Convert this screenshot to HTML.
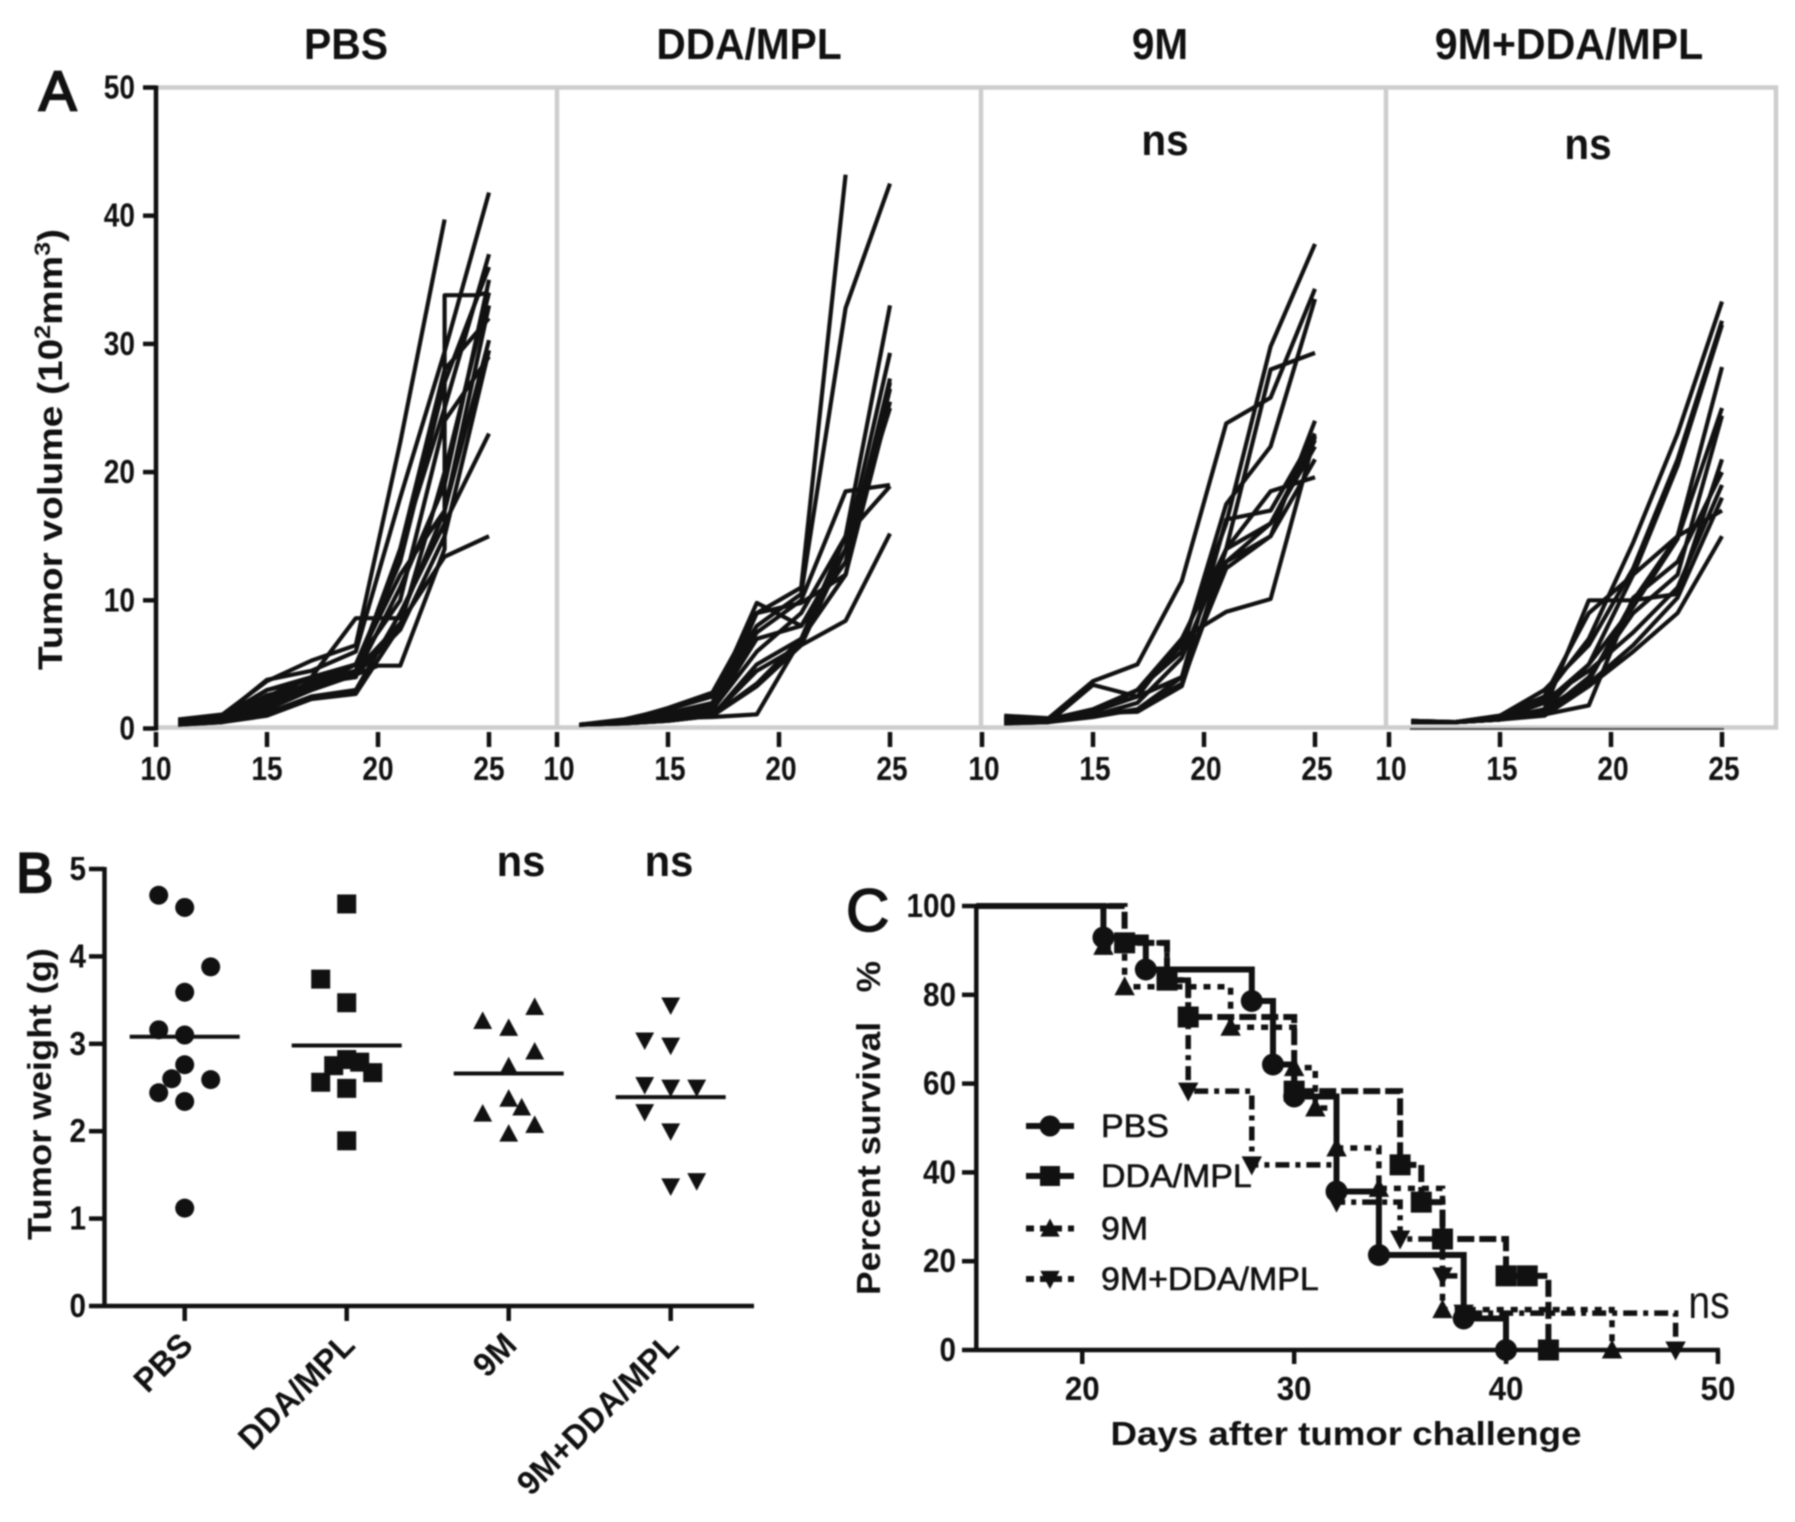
<!DOCTYPE html>
<html lang="en">
<head>
<meta charset="utf-8">
<title>Tumor growth, weight and survival</title>
<style>
html,body{margin:0;padding:0;background:#fff;}
svg{display:block;filter:blur(0.7px);font-family:"Liberation Sans",sans-serif;}
</style>
</head>
<body>
<svg id="figure" xmlns="http://www.w3.org/2000/svg" width="1795" height="1522" viewBox="0 0 1795 1522">
  <rect width="1795" height="1522" fill="#fff"/>
  <g id="panel-a">
    <text x="39" y="110" font-size="56" fill="#111" stroke="#111" stroke-width="2.2">A</text>
    <text transform="translate(346,59) scale(.93,1)" font-size="44" font-weight="bold" text-anchor="middle" fill="#111">PBS</text>
    <text transform="translate(749,59) scale(.925,1)" font-size="44" font-weight="bold" text-anchor="middle" fill="#111">DDA/MPL</text>
    <text transform="translate(1160,59) scale(.92,1)" font-size="44" font-weight="bold" text-anchor="middle" fill="#111">9M</text>
    <text transform="translate(1569,59) scale(.935,1)" font-size="44" font-weight="bold" text-anchor="middle" fill="#111">9M+DDA/MPL</text>
    <text transform="translate(1165,155) scale(.92,1)" font-size="44" font-weight="bold" text-anchor="middle" fill="#111">ns</text>
    <text transform="translate(1588,159) scale(.92,1)" font-size="44" font-weight="bold" text-anchor="middle" fill="#111">ns</text>
    <text transform="translate(62,670) rotate(-90)" font-size="34" font-weight="bold" fill="#111" textLength="441" lengthAdjust="spacingAndGlyphs">Tumor volume (10<tspan font-size="22" dy="-12">2</tspan><tspan dy="12">mm</tspan><tspan font-size="22" dy="-12">3</tspan><tspan dy="12">)</tspan></text>
  </g>
  <g id="panel-b">
    <text x="16" y="892" font-size="56" fill="#111" stroke="#111" stroke-width="2.2">B</text>
    <text transform="translate(51,1240) rotate(-90)" font-size="33" font-weight="bold" fill="#111" textLength="292" lengthAdjust="spacingAndGlyphs">Tumor weight (g)</text>
    <text transform="translate(521,876) scale(.95,1)" font-size="44" font-weight="bold" text-anchor="middle" fill="#111">ns</text>
    <text transform="translate(669,876) scale(.95,1)" font-size="44" font-weight="bold" text-anchor="middle" fill="#111">ns</text>
  </g>
  <g id="panel-c">
    <text x="846" y="931" font-size="60" fill="#111" stroke="#111" stroke-width="1.6">C</text>
    <text transform="translate(880,1295) rotate(-90)" font-size="33" font-weight="bold" fill="#111" textLength="334" lengthAdjust="spacingAndGlyphs" xml:space="preserve">Percent survival   %</text>
    <text x="1346" y="1445" font-size="33" font-weight="bold" text-anchor="middle" fill="#111" textLength="471" lengthAdjust="spacingAndGlyphs">Days after tumor challenge</text>
    <text transform="translate(1709,1318) scale(.85,1)" font-size="46" text-anchor="middle" fill="#111">ns</text>
  </g>
</svg>
<script>
/* ---------- Panel A data: tumor volume (10^2 mm^3) by day ---------- */
const growthDays = [11, 13, 15, 17, 19, 21, 23, 25];
const growthXTicks = [10, 15, 20, 25];
const growthYTicks = [0, 10, 20, 30, 40, 50];
const pbsVolumes = [
  [0.6, 1.0, 3.8, 4.5, 6.0, 18.0, 29.4, 41.8],
  [0.7, 1.1, 3.7, 5.3, 6.5, 22.3, 39.7],
  [0.4, 0.7, 2.0, 3.6, 4.5, 14.0, 25.0, 37.0],
  [0.5, 0.8, 2.5, 4.0, 5.0, 13.0, 27.0, 36.0],
  [0.3, 0.6, 1.5, 3.0, 4.2, 11.0, 19.0, 35.0],
  [0.3, 0.5, 1.0, 2.3, 2.7, 8.0, 20.0, 34.0],
  [0.5, 0.9, 3.0, 4.0, 8.6, 8.6, 17.0, 33.0],
  [0.4, 0.7, 2.2, 3.5, 4.0, 14.0, 28.0, 32.0],
  [0.6, 1.0, 3.0, 3.8, 5.0, 12.0, 17.0, 30.3],
  [0.4, 0.6, 1.8, 3.2, 5.0, 10.0, 24.0, 29.0],
  [0.3, 0.5, 1.2, 2.5, 3.0, 9.0, 16.0, 23.0],
  [0.5, 0.8, 2.5, 3.5, 4.5, 8.2, 13.4, 15.0],
  [0.4, 0.7, 2.6, 3.4, 4.2, 7.7, 15.0, 29.5]
];
const pbsPlateauDays = [11, 13, 15, 17, 19, 20, 21, 23, 23, 24.4, 25];
const pbsPlateauVolumes = [0.4, 0.6, 1.6, 3.0, 4.2, 4.9, 4.9, 14.0, 33.8, 33.8, 34.0];
const ddaVolumes = [
  [0.3, 0.6, 1.6, 2.8, 9.0, 11.0, 43.2],
  [0.3, 0.7, 1.5, 2.5, 8.0, 10.5, 32.8, 42.5],
  [0.3, 0.6, 1.0, 1.5, 6.0, 9.0, 15.0, 33.0],
  [0.3, 0.5, 0.8, 1.5, 7.0, 8.0, 14.0, 29.3],
  [0.3, 0.5, 1.2, 2.0, 9.8, 8.0, 13.0, 27.3],
  [0.3, 0.5, 0.8, 1.2, 9.0, 9.8, 12.0, 26.5],
  [0.3, 0.5, 0.8, 1.0, 5.0, 7.0, 12.0, 25.5],
  [0.3, 0.4, 0.6, 1.0, 4.5, 6.5, 14.0, 25.0],
  [0.3, 0.5, 1.0, 1.8, 7.5, 10.0, 18.5, 19.0],
  [0.3, 0.4, 0.6, 1.0, 3.5, 7.0, 15.0, 18.9],
  [0.3, 0.4, 0.6, 1.0, 3.3, 6.5, 8.4, 15.2],
  [0.3, 0.5, 0.8, 0.9, 1.1, 7.0, 12.0, 27.0]
];
const nineMVolumes = [
  [1.0, 0.8, 3.7, 5.0, 11.5, 23.8, 25.8, 34.3],
  [0.8, 0.7, 1.5, 3.0, 6.5, 16.0, 29.8, 37.8],
  [0.5, 0.5, 1.0, 2.0, 5.5, 14.0, 28.0, 29.3],
  [0.9, 0.7, 1.5, 3.0, 6.0, 17.5, 22.0, 33.5],
  [0.6, 0.6, 1.0, 1.5, 3.5, 13.0, 15.0, 24.0],
  [0.4, 0.5, 0.9, 1.5, 4.0, 16.3, 17.0, 23.0],
  [0.5, 0.6, 1.2, 1.3, 3.3, 14.0, 16.0, 22.0],
  [0.7, 0.6, 1.3, 2.5, 4.0, 12.5, 15.0, 21.0],
  [0.6, 0.6, 1.4, 2.5, 7.0, 9.1, 10.1, 22.8],
  [0.5, 0.6, 1.2, 3.0, 7.0, 14.0, 18.5, 19.6],
  [0.4, 0.5, 3.4, 2.5, 4.0, 13.0, 16.0, 22.5]
];
const comboVolumes = [
  [0.6, 0.5, 1.0, 2.5, 7.0, 14.5, 23.0, 33.3],
  [0.6, 0.5, 1.0, 3.0, 6.5, 12.5, 21.0, 31.8],
  [0.6, 0.5, 0.8, 2.0, 5.0, 12.0, 20.5, 31.5],
  [0.5, 0.5, 0.7, 1.5, 3.7, 10.0, 15.0, 28.2],
  [0.5, 0.5, 0.8, 1.5, 5.0, 9.5, 14.8, 25.0],
  [0.5, 0.5, 0.7, 1.2, 4.0, 9.0, 12.0, 24.4],
  [0.5, 0.5, 0.7, 1.5, 10.0, 10.0, 10.5, 21.0],
  [0.5, 0.5, 0.7, 1.1, 1.8, 10.2, 13.0, 20.0],
  [0.5, 0.5, 0.9, 2.2, 4.5, 7.5, 11.0, 19.0],
  [0.5, 0.5, 0.7, 1.3, 3.5, 6.5, 10.2, 18.0],
  [0.5, 0.5, 1.0, 2.5, 9.0, 12.0, 15.0, 17.0],
  [0.5, 0.5, 0.7, 1.0, 3.3, 6.0, 9.0, 15.0]
];

/* ---------- Panel B data: tumor weight (g) ---------- */
const weightCategories = ['PBS', 'DDA/MPL', '9M', '9M+DDA/MPL'];
const weightYTicks = [0, 1, 2, 3, 4, 5];
const pbsWeights = [4.7, 4.56, 3.88, 3.59, 3.16, 3.1, 2.76, 2.6, 2.59, 2.44, 2.34, 1.12];
const pbsSwarm = [-1, 0, 1, 0, -1, 0, 0, -0.5, 1, -1, 0, 0];
const ddaWeights = [4.6, 3.74, 3.47, 2.82, 2.75, 2.79, 2.67, 2.56, 2.49, 1.89];
const ddaSwarm = [0, -1, 0, 0, -0.5, 0.5, 1, -1, 0, 0];
const nineMWeights = [3.42, 3.26, 3.18, 2.91, 2.74, 2.37, 2.27, 2.2, 2.07, 1.97];
const nineMSwarm = [1, -1, 0, 1, 0, 0, 0.5, -1, 1, 0];
const comboWeights = [3.44, 3.04, 2.98, 2.53, 2.5, 2.5, 2.22, 2.0, 1.43, 1.37];
const comboSwarm = [0, -1, 0, -1, 0, 1, -1, 0, 1, 0];
const weightMeans = [3.08, 2.98, 2.66, 2.39];

/* ---------- Panel C data: percent survival ---------- */
const survivalXTicks = [20, 30, 40, 50];
const survivalYTicks = [0, 20, 40, 60, 80, 100];
const survivalLabels = ['PBS', 'DDA/MPL', '9M', '9M+DDA/MPL'];
const pbsDeathDays = [21, 23, 28, 29, 30, 32, 34, 38, 40];
const pbsSurvival = [92.9, 85.7, 78.6, 64.3, 57.1, 35.7, 21.4, 7.1, 0];
const ddaDeathDays = [22, 24, 25, 30, 35, 36, 37, 40, 41, 42];
const ddaSurvival = [91.7, 83.3, 75, 58.3, 41.7, 33.3, 25, 16.7, 16.7, 0];
const nineMDeathDays = [21, 22, 27, 30, 31, 32, 34, 37, 45];
const nineMSurvival = [90.9, 81.8, 72.7, 63.6, 54.5, 45.5, 36.4, 9.1, 0];
const comboDeathDays = [22, 24, 25, 28, 32, 35, 37, 38, 48];
const comboSurvival = [91.7, 83.3, 58.3, 41.7, 33.3, 25, 16.7, 8.3, 0];

/* ---------- helpers ---------- */
const SVGNS = 'http://www.w3.org/2000/svg';
const INK = '#111';

function shape(parent, tag, name, props) {
  const el = document.createElementNS(SVGNS, tag);
  
  
  for (const k in props) { el.setAttribute(k, props[k]); }
  parent.appendChild(el);
  return el;
}
function line(parent, name, x1, y1, x2, y2, color, width) {
  return shape(parent, 'line', name, { x1, y1, x2, y2, stroke: color, 'stroke-width': width });
}
function label(parent, name, x, y, str, size, sx, anchor, weight, rot) {
  const t = shape(parent, 'text', name, {
    transform: 'translate(' + x + ',' + y + ')' + (rot ? ' rotate(' + rot + ')' : '') + ' scale(' + sx + ',1)',
    'font-size': size, 'font-weight': weight, 'text-anchor': anchor, fill: INK
  });
  t.textContent = str;
  return t;
}
function marker(parent, name, kind, cx, cy, size) {
  const r = size / 2;
  if (kind === 'circle') {
    return shape(parent, 'circle', name, { cx, cy, r, fill: INK });
  }
  if (kind === 'square') {
    return shape(parent, 'rect', name, { x: cx - r, y: cy - r, width: size, height: size, fill: INK });
  }
  const dir = kind === 'up' ? 1 : -1;
  const pts = [[cx, cy - dir * r * 1.05], [cx - r * 1.02, cy + dir * r * 0.85], [cx + r * 1.02, cy + dir * r * 0.85]];
  return shape(parent, 'polygon', name, { points: pts.map(p => p.join(',')).join(' '), fill: INK });
}

/* ---------- Panel A ---------- */
(function drawPanelA() {
  const root = document.getElementById('panel-a');
  const yTop = 87.5, yBase = 728.5, tickTop = 732, tickBottom = 747;
  const volumeY = v => yBase - v / 50 * (yBase - yTop);
  const dayX = (left, d) => left + (d - 10) * 22.2;

  const panels = [
    { id: 'pbs', left: 156, nudge: 0, sets: pbsVolumes },
    { id: 'dda-mpl', left: 557, nudge: 2, sets: ddaVolumes },
    { id: '9m', left: 982, nudge: 2, sets: nineMVolumes },
    { id: '9m-dda-mpl', left: 1389, nudge: 2, sets: comboVolumes }
  ];

  // grey frame
  shape(root, 'rect', 'panel-a-frame', { x: 156, y: yTop, width: 1620, height: yBase - yTop - 1, fill: 'none', stroke: '#cdcdcd', 'stroke-width': 4.5 });
  [557, 981, 1386].forEach(function (x, i) {
    line(root, 'panel-a-divider-' + (i + 1), x, yTop, x, yBase, '#cdcdcd', 4.5);
  });
  line(root, 'panel-a-baseline-remnant', 1410, 729, 1724, 729, '#555', 2);

  // y axis
  line(root, 'panel-a-y-axis', 156, yTop - 2, 156, yBase + 2, INK, 4.5);
  growthYTicks.forEach(function (t) {
    line(root, 'panel-a-y-tick-' + t, 143, volumeY(t), 156, volumeY(t), INK, 4.5);
    label(root, 'panel-a-y-label-' + t, 135, volumeY(t) + 11, String(t), 33, 0.85, 'end', 'bold');
  });

  panels.forEach(function (p) {
    const g = shape(root, 'g', 'panel-a-' + p.id + '-group', {});
    growthXTicks.forEach(function (t) {
      line(g, 'panel-a-' + p.id + '-x-tick-' + t, dayX(p.left, t), tickTop, dayX(p.left, t), tickBottom, INK, 4.5);
      label(g, 'panel-a-' + p.id + '-x-label-' + t, dayX(p.left, t) + p.nudge, 780, String(t), 33, 0.85, 'middle', 'bold');
    });
    p.sets.forEach(function (vals, i) {
      const pts = vals.map((v, j) => dayX(p.left, growthDays[j]).toFixed(1) + ',' + volumeY(v).toFixed(1));
      shape(g, 'polyline', 'panel-a-' + p.id + '-mouse-' + (i + 1), { points: pts.join(' '), fill: 'none', stroke: INK, 'stroke-width': 4.2, 'stroke-linejoin': 'round' });
    });
    if (p.id === 'pbs') {
      const pts = pbsPlateauVolumes.map((v, j) => dayX(p.left, pbsPlateauDays[j]).toFixed(1) + ',' + volumeY(v).toFixed(1));
      shape(g, 'polyline', 'panel-a-pbs-mouse-plateau', { points: pts.join(' '), fill: 'none', stroke: INK, 'stroke-width': 4.2, 'stroke-linejoin': 'round' });
    }
  });
})();

/* ---------- Panel B ---------- */
(function drawPanelB() {
  const root = document.getElementById('panel-b');
  const axisX = 104.5, yBase = 1306, yTop = 869;
  const weightY = v => yBase - v / 5 * (yBase - yTop);
  const catX = i => 184.7 + i * 162;
  const swarmStep = 26;

  line(root, 'panel-b-y-axis', axisX, yTop - 2, axisX, yBase + 2, INK, 4.5);
  line(root, 'panel-b-x-axis', axisX, yBase, 754, yBase, INK, 4.5);
  weightYTicks.forEach(function (t) {
    line(root, 'panel-b-y-tick-' + t, 89, weightY(t), axisX, weightY(t), INK, 4.5);
    label(root, 'panel-b-y-label-' + t, 86, weightY(t) + 11, String(t), 33, 0.9, 'end', 'bold');
  });

  const groups = [
    { vals: pbsWeights, swarm: pbsSwarm, kind: 'circle', size: 19 },
    { vals: ddaWeights, swarm: ddaSwarm, kind: 'square', size: 19 },
    { vals: nineMWeights, swarm: nineMSwarm, kind: 'up', size: 18.5 },
    { vals: comboWeights, swarm: comboSwarm, kind: 'down', size: 18.5 }
  ];
  groups.forEach(function (gr, c) {
    const cat = weightCategories[c];
    const slug = cat.toLowerCase().replace(/[^a-z0-9]+/g, '-');
    line(root, 'panel-b-x-tick-' + slug, catX(c), yBase, catX(c), yBase + 15, INK, 4.5);
    label(root, 'panel-b-x-label-' + slug, catX(c) + 10, 1347, cat, 33.5, 0.97, 'end', 'bold', -45);
    gr.vals.forEach(function (v, i) {
      marker(root, 'panel-b-point-' + slug + '-' + (i + 1), gr.kind, catX(c) + gr.swarm[i] * swarmStep, weightY(v), gr.size);
    });
    line(root, 'panel-b-mean-' + slug, catX(c) - 55, weightY(weightMeans[c]), catX(c) + 55, weightY(weightMeans[c]), INK, 4);
  });
})();

/* ---------- Panel C ---------- */
(function drawPanelC() {
  const root = document.getElementById('panel-c');
  const yBase = 1350, yTop = 906;
  const dayX = d => 976.3 + (d - 15) * 21.19;
  const survY = s => yBase - s / 100 * (yBase - yTop);

  line(root, 'panel-c-y-axis', dayX(15), yTop - 2, dayX(15), yBase + 2, INK, 4.5);
  line(root, 'panel-c-x-axis', dayX(15), yBase, dayX(50) + 2, yBase, INK, 4.5);
  survivalYTicks.forEach(function (t) {
    line(root, 'panel-c-y-tick-' + t, 962, survY(t), dayX(15), survY(t), INK, 4.5);
    label(root, 'panel-c-y-label-' + t, 956, survY(t) + 11, String(t), 33, 0.9, 'end', 'bold');
  });
  survivalXTicks.forEach(function (t) {
    line(root, 'panel-c-x-tick-' + t, dayX(t), yBase, dayX(t), yBase + 14, INK, 4.5);
    label(root, 'panel-c-x-label-' + t, dayX(t), 1400, String(t), 33, 0.95, 'middle', 'bold');
  });

  const curves = [
    { days: comboDeathDays, surv: comboSurvival, kind: 'down', dash: '14 6 5 6', width: 5.5, size: 20 },
    { days: nineMDeathDays, surv: nineMSurvival, kind: 'up', dash: '7 7', width: 5.5, size: 20 },
    { days: ddaDeathDays, surv: ddaSurvival, kind: 'square', dash: '17 5', width: 6, size: 21 },
    { days: pbsDeathDays, surv: pbsSurvival, kind: 'circle', dash: 'none', width: 6, size: 22 }
  ];
  const order = [3, 2, 1, 0];
  curves.forEach(function (c, idx) {
    const labelText = survivalLabels[order[idx]];
    const slug = labelText.toLowerCase().replace(/[^a-z0-9]+/g, '-');
    let d = 'M' + dayX(15) + ' ' + survY(100);
    c.days.forEach(function (day, i) {
      d += ' H' + dayX(day).toFixed(1) + ' V' + survY(c.surv[i]).toFixed(1);
    });
    shape(root, 'path', 'panel-c-curve-' + slug, { d: d, fill: 'none', stroke: INK, 'stroke-width': c.width, 'stroke-dasharray': c.dash });
    c.days.forEach(function (day, i) {
      marker(root, 'panel-c-marker-' + slug + '-' + (i + 1), c.kind, dayX(day), survY(c.surv[i]), c.size);
    });
  });

  // legend
  const legendStyles = [
    { kind: 'circle', dash: 'none', size: 21 },
    { kind: 'square', dash: 'none', size: 20 },
    { kind: 'up', dash: '8 6', size: 19 },
    { kind: 'down', dash: '8 6', size: 19 }
  ];
  const legendRows = [1126, 1176, 1228.5, 1279];
  survivalLabels.forEach(function (name, i) {
    const slug = name.toLowerCase().replace(/[^a-z0-9]+/g, '-');
    const g = shape(root, 'g', 'legend-entry-' + slug, {});
    const rowY = legendRows[i];
    shape(g, 'line', 'legend-line-' + slug, { x1: 1026, y1: rowY, x2: 1074, y2: rowY, stroke: INK, 'stroke-width': 6, 'stroke-dasharray': legendStyles[i].dash });
    marker(g, 'legend-marker-' + slug, legendStyles[i].kind, 1050, rowY, legendStyles[i].size);
    const t = label(g, 'legend-label-' + slug, 1101, rowY + 11, name, 32, 1.06, 'start', 'normal');
    t.setAttribute('stroke', INK);
    t.setAttribute('stroke-width', '0.6');
  });
})();
</script>
</body>
</html>
